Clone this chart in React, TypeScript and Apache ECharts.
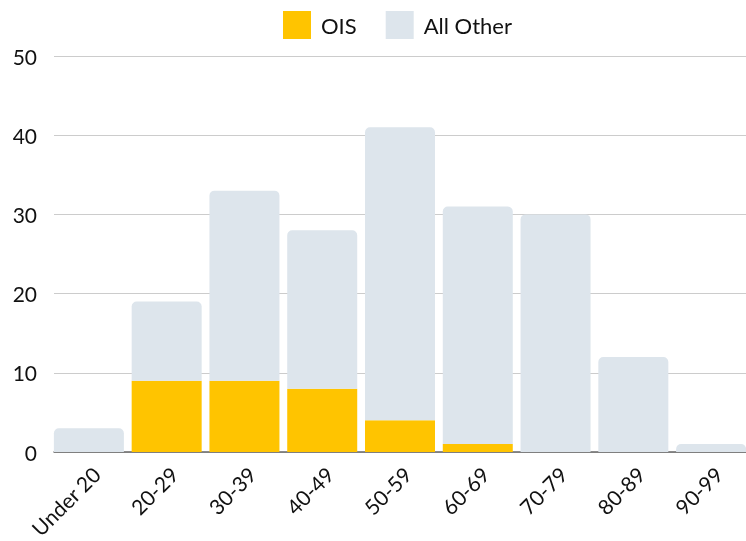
import React, { useEffect, useRef } from "react";
import * as echarts from "echarts";

const categories = ["Under 20", "20-29", "30-39", "40-49", "50-59", "60-69", "70-79", "80-89", "90-99"];
const oisValues = [0, 9, 9, 8, 4, 1, 0, 0, 0];
const allOtherValues = [3, 10, 24, 20, 37, 30, 30, 12, 1];
const yTicks = { min: 0, max: 50, interval: 10 };
const FONT = "Lato, 'Noto Sans', sans-serif";

export default function App() {
  const ref = useRef<HTMLDivElement>(null);
  useEffect(() => {
    document.body.style.margin = "0";
    const chart = echarts.init(ref.current!, null, { renderer: "svg" });
    chart.setOption({
      animation: false,
      textStyle: { fontFamily: FONT },
      legend: {
        top: 6,
        left: 278,
        itemWidth: 28,
        itemHeight: 28,
        itemGap: 29,
        icon: "rect",
        textStyle: { fontSize: 22, color: "#111", fontFamily: FONT, padding: [0, 0, 0, 5] },
        data: ["OIS", "All Other"],
      },
      grid: [
        { left: 50, width: 700, top: 56, bottom: 89, outerBoundsMode: "none", containLabel: false },
        { left: 54, right: 0, top: 56, bottom: 89, outerBoundsMode: "none", containLabel: false },
      ],
      xAxis: [
        {
          type: "category",
          gridIndex: 0,
          data: categories,
          axisTick: { show: false },
          axisLine: { show: false },
          axisLabel: {
            rotate: 45,
            fontSize: 21,
            color: "#111",
            margin: 11,
            verticalAlign: "top",
            fontFamily: FONT,
            interval: 0,
          },
        },
        {
          type: "category",
          gridIndex: 1,
          data: categories,
          axisTick: { show: false },
          axisLabel: { show: false },
          axisLine: { lineStyle: { color: "#666", width: 1.5 } },
        },
      ],
      yAxis: [
        {
          type: "value",
          gridIndex: 0,
          ...yTicks,
          axisLabel: { show: false },
          splitLine: { show: false },
          axisLine: { show: false },
          axisTick: { show: false },
        },
        {
          type: "value",
          gridIndex: 1,
          ...yTicks,
          axisLabel: { fontSize: 21, color: "#111", margin: 17, fontFamily: FONT },
          splitLine: { lineStyle: { color: "#ccc" } },
          axisLine: { show: false },
          axisTick: { show: false },
        },
      ],
      series: [
        {
          name: "OIS",
          type: "bar",
          stack: "total",
          xAxisIndex: 0,
          yAxisIndex: 0,
          data: oisValues,
          barCategoryGap: "10%",
          itemStyle: { color: "#FFC400" },
        },
        {
          name: "All Other",
          type: "bar",
          stack: "total",
          xAxisIndex: 0,
          yAxisIndex: 0,
          data: allOtherValues,
          barCategoryGap: "10%",
          itemStyle: { color: "#DDE5EC", borderRadius: [5, 5, 0, 0] },
        },
      ],
    });
    return () => chart.dispose();
  }, []);
  return <div ref={ref} style={{ position: "fixed", left: 0, top: 0, width: 746, height: 541 }} />;
}
